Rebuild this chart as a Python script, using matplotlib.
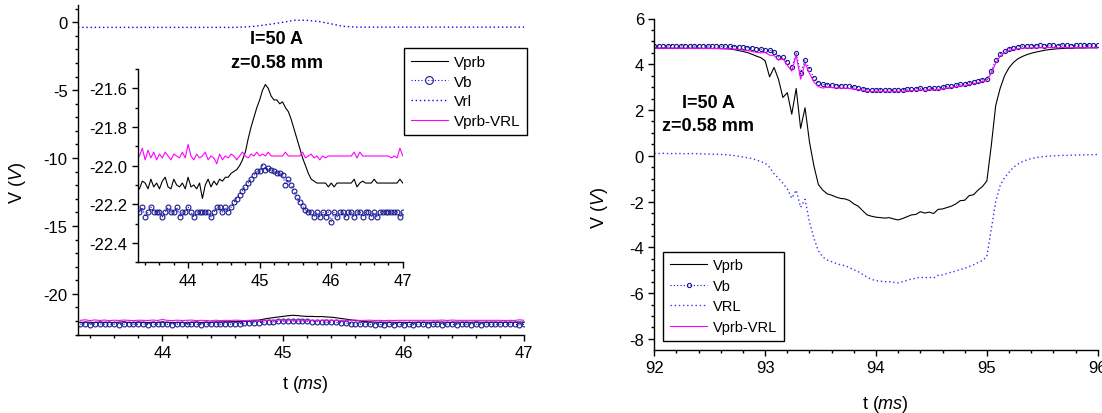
import numpy as np
import matplotlib
matplotlib.use('Agg')
import matplotlib.pyplot as plt
from matplotlib.ticker import MultipleLocator

plt.rcParams['font.family'] = ['Liberation Sans', 'DejaVu Sans']
plt.rcParams['mathtext.fontset'] = 'custom'
plt.rcParams['mathtext.rm'] = 'Liberation Sans'
plt.rcParams['mathtext.it'] = 'Liberation Sans:italic'
plt.rcParams['axes.unicode_minus'] = False

# ---------------- left panel data (t in ms, V in volts) ----------------
t_left = np.round(np.arange(43.32, 47.001, 0.04), 2)

vprb_left = [
    -22.12, -22.08, -22.09, -22.12, -22.07, -22.11, -22.09, -22.12, -22.08, -22.06,
    -22.11, -22.12, -22.07, -22.10, -22.11, -22.09, -22.12, -22.06, -22.11, -22.10,
    -22.12, -22.09, -22.17, -22.10, -22.07, -22.11, -22.08, -22.10, -22.07, -22.08,
    -22.06, -22.06, -22.04, -22.03, -22.02, -22.00, -21.97, -21.93, -21.86, -21.80,
    -21.75, -21.70, -21.66, -21.61, -21.58, -21.60, -21.64, -21.66, -21.66, -21.68,
    -21.67, -21.70, -21.72, -21.76, -21.81, -21.86, -21.91, -21.96, -22.00, -22.04,
    -22.07, -22.08, -22.09, -22.09, -22.09, -22.09, -22.11, -22.09, -22.11, -22.09,
    -22.09, -22.09, -22.09, -22.09, -22.09, -22.07, -22.11, -22.09, -22.08, -22.09,
    -22.09, -22.09, -22.07, -22.09, -22.09, -22.09, -22.09, -22.09, -22.09, -22.09,
    -22.09, -22.07, -22.09]

vb_left = [
    -22.24, -22.215, -22.265, -22.24, -22.215, -22.24, -22.24, -22.24, -22.265, -22.24,
    -22.215, -22.24, -22.24, -22.215, -22.265, -22.24, -22.24, -22.215, -22.24, -22.265,
    -22.24, -22.24, -22.24, -22.24, -22.24, -22.265, -22.24, -22.215, -22.215, -22.24,
    -22.215, -22.24, -22.215, -22.19, -22.17, -22.15, -22.13, -22.11, -22.09, -22.07,
    -22.05, -22.03, -22.03, -22.00, -22.02, -22.01, -22.02, -22.03, -22.04, -22.04,
    -22.05, -22.10, -22.07, -22.10, -22.13, -22.16, -22.19, -22.21, -22.23, -22.24,
    -22.24, -22.265, -22.24, -22.265, -22.24, -22.265, -22.24, -22.29, -22.24, -22.265,
    -22.24, -22.24, -22.265, -22.24, -22.24, -22.265, -22.24, -22.24, -22.265, -22.24,
    -22.24, -22.265, -22.24, -22.265, -22.24, -22.24, -22.24, -22.24, -22.24, -22.24,
    -22.24, -22.265, -22.24]

vdiff_left = [
    -21.95, -21.91, -21.97, -21.92, -21.96, -21.93, -21.97, -21.94, -21.96, -21.93,
    -21.95, -21.97, -21.94, -21.95, -21.96, -21.93, -21.96, -21.89, -21.95, -21.97,
    -21.94, -21.96, -21.95, -21.93, -21.97, -21.95, -21.96, -21.99, -21.94, -21.97,
    -21.95, -21.96, -21.94, -21.95, -21.97, -21.95, -21.93, -21.95, -21.96, -21.94,
    -21.95, -21.93, -21.95, -21.94, -21.95, -21.93, -21.95, -21.95, -21.95, -21.95,
    -21.95, -21.93, -21.95, -21.95, -21.95, -21.95, -21.95, -21.93, -21.96, -21.95,
    -21.94, -21.96, -21.95, -21.97, -21.95, -21.96, -21.95, -21.95, -21.95, -21.95,
    -21.95, -21.95, -21.95, -21.95, -21.95, -21.93, -21.96, -21.93, -21.95, -21.95,
    -21.95, -21.95, -21.95, -21.95, -21.95, -21.95, -21.95, -21.95, -21.96, -21.95,
    -21.96, -21.91, -21.95]

t_rl_left = np.round(np.arange(43.3, 47.001, 0.1), 1)
vrl_left = [
    -0.38, -0.38, -0.38, -0.38, -0.38, -0.38, -0.38, -0.38, -0.38, -0.38,
    -0.38, -0.38, -0.38, -0.38, -0.34, -0.26, -0.14, 0.00, 0.15, 0.14,
    0.05, -0.12, -0.30, -0.36, -0.36, -0.36, -0.36, -0.36, -0.36, -0.36,
    -0.36, -0.36, -0.36, -0.36, -0.36, -0.36, -0.36, -0.36]

# ---------------- right panel data ----------------
t_right = np.round(np.arange(92.0, 96.001, 0.04), 2)

vprb_right = [
    4.70, 4.70, 4.71, 4.70, 4.70, 4.70, 4.70, 4.69, 4.70, 4.70,
    4.70, 4.69, 4.70, 4.69, 4.69, 4.68, 4.68, 4.67, 4.64, 4.60,
    4.56, 4.51, 4.44, 4.36, 4.29, 4.15, 3.45, 3.86, 3.35, 2.55,
    2.76, 1.82, 2.94, 1.20, 2.10, 0.60, -0.44, -1.25, -1.50, -1.66,
    -1.72, -1.80, -1.86, -1.88, -1.95, -2.10, -2.20, -2.40, -2.58, -2.64,
    -2.68, -2.70, -2.72, -2.70, -2.76, -2.80, -2.74, -2.66, -2.58, -2.56,
    -2.44, -2.50, -2.46, -2.52, -2.34, -2.32, -2.26, -2.20, -2.10, -1.96,
    -1.94, -1.74, -1.70, -1.50, -1.34, -1.10, 0.45, 2.20, 2.95, 3.50,
    3.85, 4.08, 4.24, 4.34, 4.42, 4.48, 4.53, 4.57, 4.61, 4.64,
    4.66, 4.68, 4.69, 4.70, 4.70, 4.71, 4.71, 4.71, 4.72, 4.72,
    4.72]

vb_right = [
    4.80, 4.81, 4.80, 4.80, 4.82, 4.80, 4.80, 4.81, 4.80, 4.79,
    4.81, 4.80, 4.80, 4.79, 4.80, 4.79, 4.79, 4.78, 4.77, 4.76,
    4.75, 4.73, 4.71, 4.68, 4.66, 4.62, 4.64, 4.52, 4.32, 4.30,
    4.08, 3.86, 4.48, 3.60, 4.18, 3.80, 3.40, 3.18, 3.12, 3.10,
    3.08, 3.07, 3.06, 3.04, 3.03, 3.01, 2.98, 2.94, 2.89, 2.88,
    2.88, 2.89, 2.88, 2.89, 2.87, 2.88, 2.89, 2.91, 2.92, 2.94,
    2.95, 2.93, 2.96, 2.95, 2.98, 3.00, 3.03, 3.06, 3.08, 3.12,
    3.15, 3.19, 3.22, 3.28, 3.32, 3.36, 3.70, 4.18, 4.45, 4.60,
    4.68, 4.73, 4.77, 4.79, 4.80, 4.82, 4.81, 4.83, 4.82, 4.84,
    4.83, 4.82, 4.84, 4.83, 4.82, 4.84, 4.83, 4.83, 4.84, 4.83,
    4.84]

vrl_right = [
    0.10, 0.10, 0.11, 0.10, 0.10, 0.10, 0.10, 0.09, 0.10, 0.10,
    0.09, 0.08, 0.08, 0.07, 0.07, 0.06, 0.05, 0.03, 0.01, -0.02,
    -0.05, -0.08, -0.12, -0.18, -0.25, -0.32, -0.50, -0.78, -0.98, -1.20,
    -1.45, -1.85, -1.50, -2.25, -1.90, -2.90, -3.60, -4.15, -4.42, -4.55,
    -4.62, -4.70, -4.76, -4.80, -4.88, -4.98, -5.06, -5.18, -5.30, -5.40,
    -5.45, -5.48, -5.50, -5.50, -5.53, -5.55, -5.50, -5.44, -5.38, -5.35,
    -5.30, -5.33, -5.30, -5.34, -5.22, -5.20, -5.14, -5.08, -5.04, -4.96,
    -4.92, -4.84, -4.76, -4.66, -4.58, -4.40, -3.20, -2.00, -1.30, -0.95,
    -0.72, -0.50, -0.36, -0.26, -0.18, -0.12, -0.08, -0.05, -0.03, -0.01,
    0.00, 0.01, 0.02, 0.02, 0.03, 0.03, 0.04, 0.04, 0.05, 0.05,
    0.06]

vdiff_right = [
    4.70, 4.70, 4.71, 4.70, 4.70, 4.70, 4.70, 4.70, 4.69, 4.70,
    4.70, 4.69, 4.70, 4.69, 4.69, 4.69, 4.68, 4.67, 4.66, 4.64,
    4.62, 4.60, 4.56, 4.52, 4.50, 4.52, 4.40, 4.38, 4.18, 4.25,
    3.95, 3.70, 4.40, 3.35, 4.05, 3.60, 3.22, 3.02, 2.96, 3.00,
    2.98, 2.97, 2.96, 2.95, 2.94, 2.92, 2.90, 2.86, 2.82, 2.81,
    2.82, 2.81, 2.82, 2.80, 2.81, 2.82, 2.82, 2.84, 2.85, 2.86,
    2.88, 2.87, 2.89, 2.88, 2.91, 2.93, 2.96, 2.99, 3.01, 3.05,
    3.08, 3.12, 3.15, 3.20, 3.25, 3.30, 3.60, 4.05, 4.35, 4.52,
    4.60, 4.65, 4.68, 4.70, 4.71, 4.72, 4.71, 4.72, 4.72, 4.73,
    4.72, 4.72, 4.73, 4.72, 4.72, 4.73, 4.72, 4.72, 4.73, 4.72,
    4.72]

C_VB_EDGE = '#1a1a8c'
C_BLUE = '#0000ff'
C_MAG = '#ff00ff'


def style_axis(ax, xminor, yminor, size=12):
    for side in ('top', 'right'):
        ax.spines[side].set_visible(False)
    for side in ('left', 'bottom'):
        ax.spines[side].set_linewidth(1.0)
    ax.xaxis.set_minor_locator(MultipleLocator(xminor))
    ax.yaxis.set_minor_locator(MultipleLocator(yminor))
    ax.tick_params(which='major', direction='out', length=4.5, width=1.0,
                   labelsize=size, pad=3)
    ax.tick_params(which='minor', direction='out', length=2.5, width=1.0)
    ax.tick_params(top=False, right=False, which='both')


def draw_left(ax, ms):
    ax.plot(t_left, vprb_left, color='black', lw=0.8, label='Vprb')
    ax.plot(t_left, vb_left, color=C_BLUE, lw=0.8, ls=(0, (1, 2)),
            marker='o', ms=ms, mfc='none', mec=C_VB_EDGE, mew=0.8, label='Vb')
    ax.plot(t_rl_left, vrl_left, color=C_BLUE, lw=1.0, ls=(0, (1, 2)), label='Vrl')
    ax.plot(t_left, vdiff_left, color=C_MAG, lw=0.8, label='Vprb-VRL')


W, H = 1102, 414
fig = plt.figure(figsize=(W / 100, H / 100), dpi=100)


def box(x0, y0, x1, y1):
    return [x0 / W, 1 - y1 / H, (x1 - x0) / W, (y1 - y0) / H]


# left main
ax1 = fig.add_axes(box(78, 6, 524.3, 336))
draw_left(ax1, 3.5)
ax1.set_xlim(43.3, 47)
ax1.set_ylim(-23.03, 1.27)
ax1.xaxis.set_major_locator(MultipleLocator(1))
ax1.yaxis.set_major_locator(MultipleLocator(5))
style_axis(ax1, 0.2, 1)
ax1.set_xlabel(r't ($\mathit{ms}$)', fontsize=13)
ax1.set_ylabel(r'V ($\mathit{V}$)', fontsize=13)
ax1.xaxis.set_label_coords(0.509, -0.115)
ax1.yaxis.set_label_coords(-0.112, 0.464)
leg1 = ax1.legend(loc='upper left', bbox_to_anchor=(404 / W, 1 - 49 / H),
                  bbox_transform=fig.transFigure, borderaxespad=0,
                  fontsize=11, fancybox=False, framealpha=1, edgecolor='black',
                  handlelength=2.4, labelspacing=0.38, markerscale=1.6,
                  borderpad=0.45, handletextpad=0.4)
leg1.get_frame().set_linewidth(1.0)

# inset
ax2 = fig.add_axes(box(138, 70, 402.8, 263.3))
ax2.patch.set_alpha(0)
draw_left(ax2, 3.5)
ax2.set_xlim(43.3, 47)
ax2.set_ylim(-22.5, -21.5)
ax2.xaxis.set_major_locator(MultipleLocator(1))
ax2.yaxis.set_major_locator(MultipleLocator(0.2))
style_axis(ax2, 0.2, 0.1)
ax2.set_yticks([-22.4, -22.2, -22.0, -21.8, -21.6])
ax2.set_yticklabels(['-22.4', '-22.2', '-22.0', '-21.8', '-21.6'])

fig.text(277 / W, 1 - 40 / H, 'I=50 A', ha='center', va='center',
         fontsize=13, fontweight='bold')
fig.text(277 / W, 1 - 63 / H, 'z=0.58 mm', ha='center', va='center',
         fontsize=13, fontweight='bold')

# right panel
ax3 = fig.add_axes(box(654.3, 19.5, 1097.7, 350.7))
ax3.plot(t_right, vprb_right, color='black', lw=0.8, label='Vprb')
ax3.plot(t_right, vb_right, color=C_BLUE, lw=0.8, ls=(0, (1, 2)),
         marker='o', ms=3.0, mfc='none', mec=C_VB_EDGE, mew=0.8, label='Vb')
ax3.plot(t_right, vrl_right, color='#3535ff', lw=1.0, ls=(0, (1, 2)), label='VRL')
ax3.plot(t_right, vdiff_right, color=C_MAG, lw=0.8, label='Vprb-VRL')
ax3.set_xlim(92, 96)
ax3.set_ylim(-8.47, 6)
ax3.xaxis.set_major_locator(MultipleLocator(1))
ax3.yaxis.set_major_locator(MultipleLocator(2))
style_axis(ax3, 0.2, 0.5)
ax3.set_xlabel(r't ($\mathit{ms}$)', fontsize=13)
ax3.set_ylabel(r'V ($\mathit{V}$)', fontsize=13)
ax3.xaxis.set_label_coords(0.522, -0.13)
ax3.yaxis.set_label_coords(-0.099, 0.43)
leg3 = ax3.legend(loc='upper left', bbox_to_anchor=(663 / W, 1 - 252.7 / H),
                  bbox_transform=fig.transFigure, borderaxespad=0,
                  fontsize=10.5, fancybox=False, framealpha=1, edgecolor='black',
                  handlelength=2.6, labelspacing=0.45, markerscale=1.0,
                  borderpad=0.45, handletextpad=0.4)
leg3.get_frame().set_linewidth(1.0)

fig.text(709 / W, 1 - 104 / H, 'I=50 A', ha='center', va='center',
         fontsize=13, fontweight='bold')
fig.text(708 / W, 1 - 126.7 / H, 'z=0.58 mm', ha='center', va='center',
         fontsize=13, fontweight='bold')

fig.savefig('out.png', dpi=100)
